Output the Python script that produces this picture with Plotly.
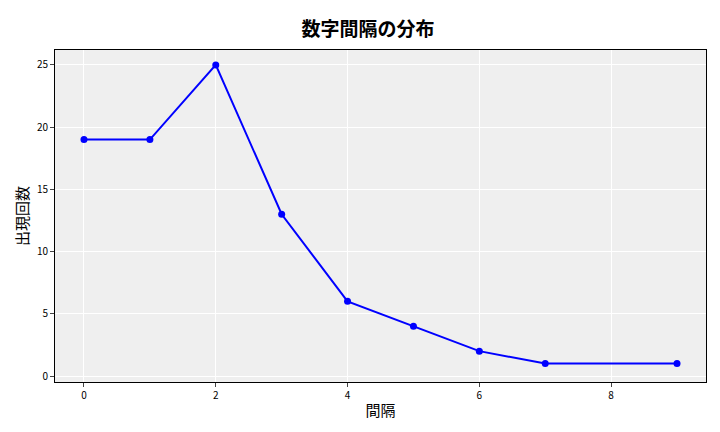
import plotly.graph_objects as go

gaps = [0, 1, 2, 3, 4, 5, 6, 7, 9]
counts = [19, 19, 25, 13, 6, 4, 2, 1, 1]

fig = go.Figure(go.Scatter(
    x=gaps, y=counts, mode="lines+markers",
    line=dict(color="blue", width=2),
    marker=dict(color="blue", size=7),
))

font = "Noto Sans CJK JP"
fig.update_layout(
    width=720, height=432,
    margin=dict(l=47, r=22, t=42, b=58),
    paper_bgcolor="white", plot_bgcolor="#efefef",
    font=dict(family=font, size=10, color="black"),
    title=dict(text="<b>数字間隔の分布</b>", x=0.5, y=0.965, xanchor="center",
               font=dict(size=19, family=font)),
    showlegend=False,
)
fig.update_xaxes(range=[-0.44, 9.44], tickvals=[0, 2, 4, 6, 8],
                 title=dict(text="間隔", font=dict(size=15), standoff=4),
                 showgrid=True, gridcolor="white", zeroline=False,
                 showline=True, linecolor="black", mirror=True,
                 ticks="outside", ticklen=4)
fig.update_yaxes(range=[-0.48, 26.2], tickvals=[0, 5, 10, 15, 20, 25],
                 title=dict(text="出現回数", font=dict(size=15), standoff=4),
                 showgrid=True, gridcolor="white", zeroline=False,
                 showline=True, linecolor="black", mirror=True,
                 ticks="outside", ticklen=4)

fig.write_html("out.html")
